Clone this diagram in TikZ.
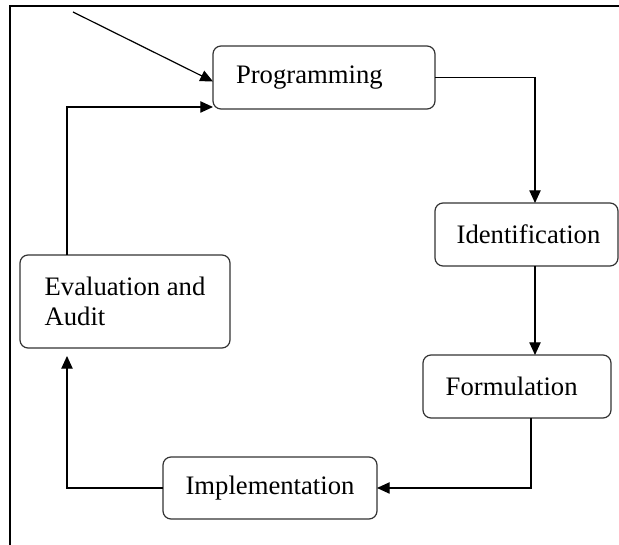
\documentclass[tikz,border=0pt]{standalone}
\usepackage{fontspec}
\setmainfont{Liberation Serif}
\usepackage{tikz}
\usetikzlibrary{arrows.meta, positioning}

\begin{document}
\begin{tikzpicture}[x=0.75pt, y=-0.75pt,
  stage/.style={draw=black!80, line width=0.9pt, rounded corners=6pt, outer sep=0pt,
    font=\fontsize{20}{22.5}\selectfont, minimum height=47.25pt},
  arr/.style={line width=0.9pt, -{Triangle[length=9.5pt,width=8.5pt]}}]
\useasboundingbox (0,0) rectangle (619,545);
\draw[line width=0.9pt] (10,545) -- (10,6) -- (619,6);
\coordinate (start) at (73,12);
\coordinate (loopx) at (67,0);
\coordinate (rightx) at (535,0);
\coordinate (downx) at (531,0);
\node[stage, minimum width=166.5pt] (prog) at (324,77.5) {Programming\hspace*{22pt}};
\node[stage, minimum width=137.25pt] (ident) at (526.5,234.5) {\hspace*{3pt}Identification};
\node[stage, minimum width=141pt] (form) at (517,386.5) {Formulation\hspace*{8pt}};
\node[stage, minimum width=160.5pt, minimum height=46.5pt] (impl) at (270,488) {Implementation};
\node[stage, minimum width=157.5pt, minimum height=69.75pt, align=left] (eval) at (125,301.5) {Evaluation and\\Audit};
\draw[arr] (start) -- ([yshift=-3pt]prog.west);
\draw[arr] (prog.east) -| (ident.north -| rightx);
\draw[arr] (ident.south -| rightx) -- (form.north -| rightx);
\draw[arr] (form.south -| downx) |- (impl.east);
\draw[arr, shorten >=6pt] (impl.west) -| (eval.south -| loopx);
\draw[arr] (eval.north -| loopx) |- ([yshift=1.5pt]prog.south west);
\end{tikzpicture}
\end{document}
